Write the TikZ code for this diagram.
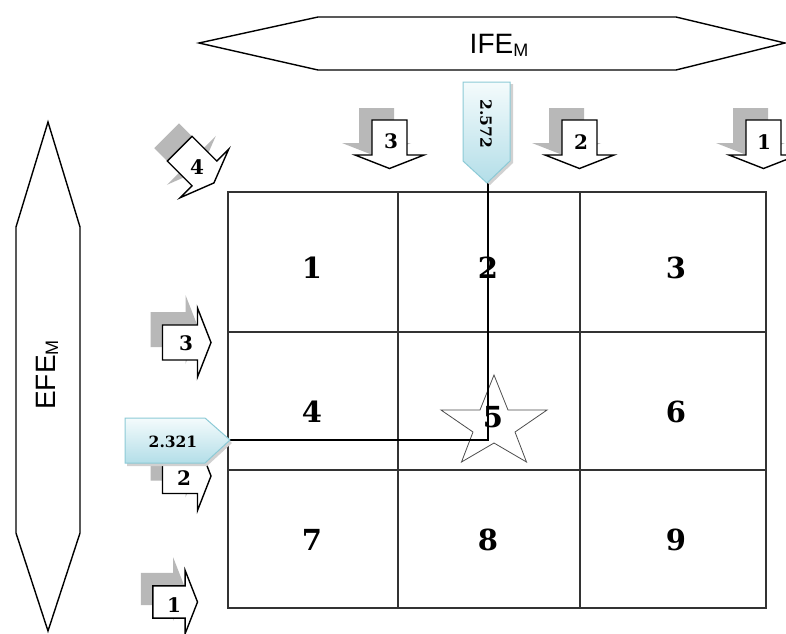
\documentclass[tikz,border=0pt]{standalone}
\usepackage{fontspec}
\newfontfamily\arialf{Liberation Sans}
\newfontfamily\digitf{DejaVu Serif}
\usetikzlibrary{calc}
\definecolor{cbord}{HTML}{8CCAD6}
\definecolor{ctop}{HTML}{F4FBFC}
\definecolor{cbot}{HTML}{B3DEE8}
\definecolor{gridc}{HTML}{333333}
\tikzset{
  blockarrow/.pic={
    \path[pic actions] (-17.5,-17.5) -- (17.5,-17.5) -- (17.5,-34.5) -- (31,0)
      -- (17.5,34.5) -- (17.5,17.5) -- (-17.5,17.5) -- cycle;
  },
  arrowbody/.style={draw=black, fill=white, line width=1.4pt, line join=miter},
  arrowshadow/.style={fill=black!28, draw=none},
  hexshape/.style={draw=black, fill=white, line width=1.4pt, line join=miter},
  gridline/.style={draw=gridc, line width=1.2pt},
  cell/.style={font=\digitf\bfseries\fontsize{29}{29}\selectfont, inner sep=0pt},
  arrlbl/.style={font=\digitf\bfseries\fontsize{20}{20}\selectfont, inner sep=0pt},
  calltext/.style={font=\digitf\bfseries\fontsize{15.5}{16}\selectfont, inner sep=0pt},
  callout/.style={draw=cbord, line width=1pt, top color=ctop, bottom color=cbot},
  callshadow/.style={fill=black!18, draw=none},
  conn/.style={draw=black, line width=1.4pt},
  startline/.style={draw=black!70, line width=0.8pt, line join=miter},
}
\begin{document}
\begin{tikzpicture}[x=1pt,y=-1pt]
\useasboundingbox (0,0) rectangle (786,633);
\fill[white] (0,0) rectangle (786,633);

% axis hexagons
\path[hexshape] (199,43) -- (318,17) -- (676,17) -- (785,43) -- (676,70) -- (318,70) -- cycle;
\node[anchor=base, inner sep=0pt, font=\arialf\fontsize{28}{28}\selectfont] (ife) at (499,53)
  {IFE\raisebox{-3pt}{\fontsize{18}{18}\selectfont M}};
\path[hexshape] (48,122) -- (80,227) -- (80,533) -- (48,631) -- (16,533) -- (16,227) -- cycle;
\node[anchor=base, rotate=90, inner sep=0pt, font=\arialf\fontsize{28}{28}\selectfont] (efe) at (55,375)
  {EFE\raisebox{-3pt}{\fontsize{18}{18}\selectfont M}};

% block arrows: shadows
\pic[arrowshadow, rotate=-90] at (376.5,125.5) {blockarrow};
\pic[arrowshadow, rotate=-90] at (566.5,125.5) {blockarrow};
\pic[arrowshadow, rotate=-90] at (750.5,125.5) {blockarrow};
\pic[arrowshadow, rotate=-45] at (179,148) {blockarrow};
\pic[arrowshadow] at (168,329.5) {blockarrow};
\pic[arrowshadow] at (168,463) {blockarrow};
\pic[arrowshadow, scale=0.92] at (157,589) {blockarrow};
% block arrows
\pic[arrowbody, rotate=-90] at (389.5,137.5) {blockarrow};
\pic[arrowbody, rotate=-90] at (579.5,137.5) {blockarrow};
\pic[arrowbody, rotate=-90] at (763.5,137.5) {blockarrow};
\pic[arrowbody, rotate=-45] at (192,161) {blockarrow};
\pic[arrowbody] at (180,342.5) {blockarrow};
\pic[arrowbody] at (180,476) {blockarrow};
\pic[arrowbody, scale=0.92] at (169,602) {blockarrow};
\node[arrlbl] (ad3) at (391,141) {3};
\node[arrlbl] (ad2) at (581,142) {2};
\node[arrlbl] (ad1) at (764,142) {1};
\node[arrlbl] (ag4) at (197,167) {4};
\node[arrlbl] (ar3) at (186,343) {3};
\node[arrlbl] (ar2) at (184,478) {2};
\node[arrlbl] (ar1) at (174,605) {1};

% grid
\draw[gridline] (228,192) rectangle (766,608);
\draw[gridline] (398,192) -- (398,608);
\draw[gridline] (580,192) -- (580,608);
\draw[gridline] (228,332) -- (766,332);
\draw[gridline] (228,470) -- (766,470);

% star
\path[startline] (494,375) -- (508,410) -- (547,410) -- (515,432) -- (526.5,462)
  -- (494,443) -- (461.5,462) -- (473,432) -- (441,410) -- (480,410) -- cycle;

% connector
\coordinate (tipA) at (488,183);
\coordinate (tipB) at (230,440);
\draw[conn] (tipA) |- (tipB);

% callouts
\fill[callshadow] (466,84) -- (513,84) -- (513,163) -- (490,185) -- (466,163) -- cycle;
\path[callout] (463,82) -- (510,82) -- (510,161) -- (487,183) -- (463,161) -- cycle;
\node[calltext, rotate=-90] (v1) at (486,124) {2.572};
\fill[callshadow] (127,421) -- (207,421) -- (232,443) -- (207,466) -- (127,466) -- cycle;
\path[callout] (125,418) -- (205,418) -- (230,440) -- (205,463) -- (125,463) -- cycle;
\node[calltext] (v2) at (173,442) {2.321};

% cell labels
\node[cell] (c1) at (312,268) {1};
\node[cell] (c2) at (488,268) {2};
\node[cell] (c3) at (676,268) {3};
\node[cell] (c4) at (312,412) {4};
\node[cell] (c5) at (493,417) {5};
\node[cell] (c6) at (676,412) {6};
\node[cell] (c7) at (312,540) {7};
\node[cell] (c8) at (488,540) {8};
\node[cell] (c9) at (676,540) {9};
\end{tikzpicture}
\end{document}
